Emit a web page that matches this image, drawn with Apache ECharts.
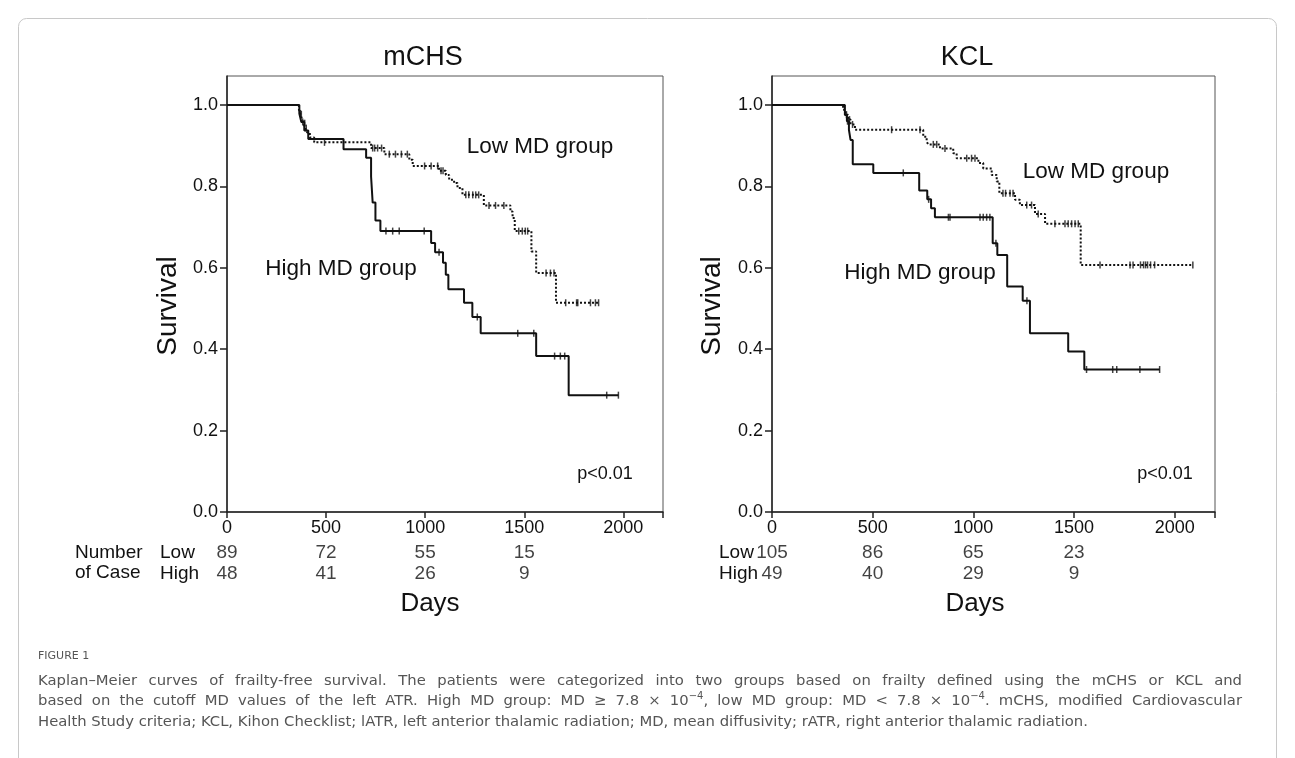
<!DOCTYPE html>
<html>
<head>
<meta charset="utf-8">
<script src="https://cdn.jsdelivr.net/npm/echarts@6/dist/echarts.min.js"></script>
<style>
html, body { margin: 0; padding: 0; background: #fff; }
#chart { width: 1295px; height: 758px; }
</style>
</head>
<body>
<div id="chart"></div>
<script>
// Kaplan-Meier steps: [day, survival after the drop]
const mchsLowSteps = [[0, 1], [363, 0.989], [370, 0.977], [378, 0.966], [386, 0.955], [395, 0.943], [405, 0.932],
    [418, 0.92], [440, 0.908], [727, 0.894], [794, 0.879], [920, 0.865], [937, 0.85], [1070, 0.838], [1104, 0.828],
    [1121, 0.816], [1146, 0.808], [1163, 0.796], [1188, 0.779], [1296, 0.753], [1430, 0.738], [1441, 0.722],
    [1452, 0.69], [1536, 0.64], [1560, 0.587], [1660, 0.514]];
const mchsLowEnd = 1880;
const mchsLowCensor = [375, 392, 400, 492, 735, 745, 760, 780, 819, 850, 880, 910, 997, 1030, 1063, 1080, 1090,
    1205, 1220, 1240, 1255, 1270, 1322, 1355, 1397, 1472, 1490, 1505, 1517, 1610, 1632, 1650, 1709, 1764, 1770,
    1834, 1859, 1875];

const mchsHighSteps = [[0, 1], [365, 0.979], [375, 0.958], [390, 0.937], [410, 0.916], [588, 0.891], [702, 0.87],
    [727, 0.824], [735, 0.76], [749, 0.716], [774, 0.69], [1030, 0.661], [1050, 0.638], [1090, 0.612],
    [1104, 0.583], [1117, 0.547], [1196, 0.514], [1238, 0.479], [1280, 0.439], [1560, 0.383], [1724, 0.287]];
const mchsHighEnd = 1975;
const mchsHighCensor = [370, 382, 802, 836, 869, 995, 1070, 1263, 1467, 1548, 1653, 1682, 1704, 1916, 1975];

const kclLowSteps = [[0, 1], [353, 0.988], [365, 0.976], [378, 0.964], [390, 0.952], [412, 0.939], [751, 0.922],
    [768, 0.91], [776, 0.903], [834, 0.893], [900, 0.881], [917, 0.869], [1025, 0.857], [1049, 0.844],
    [1091, 0.828], [1116, 0.812], [1129, 0.783], [1207, 0.767], [1231, 0.754], [1306, 0.732], [1356, 0.708],
    [1533, 0.607]];
const kclLowEnd = 2090;
const kclLowCensor = [370, 385, 400, 594, 735, 801, 818, 859, 967, 991, 1008, 1147, 1160, 1182, 1197, 1265, 1289,
    1322, 1405, 1455, 1471, 1488, 1505, 1521, 1629, 1778, 1793, 1830, 1845, 1855, 1865, 1880, 1900, 2090];

const kclHighSteps = [[0, 1], [362, 0.975], [372, 0.96], [382, 0.939], [390, 0.914], [401, 0.854], [503, 0.833],
    [731, 0.79], [771, 0.768], [790, 0.746], [809, 0.724], [1096, 0.66], [1119, 0.631], [1168, 0.554],
    [1245, 0.519], [1281, 0.439], [1471, 0.394], [1551, 0.35]];
const kclHighEnd = 1925;
const kclHighCensor = [375, 380, 652, 778, 876, 884, 1033, 1049, 1066, 1082, 1112, 1266, 1562, 1692, 1712, 1827, 1925];

// number of cases at risk
const riskDays = [0, 500, 1000, 1500];
const mchsRiskLow = [89, 72, 55, 15];
const mchsRiskHigh = [48, 41, 26, 9];
const kclRiskLow = [105, 86, 65, 23];
const kclRiskHigh = [49, 40, 29, 9];

const yTicks = [0, 0.2, 0.4, 0.6, 0.8, 1.0];

// caption, "^" marks a superscript run; first two lines are justified
const captionLines = [
    "Kaplan–Meier curves of frailty-free survival. The patients were categorized into two groups based on frailty defined using the mCHS or KCL and",
    "based on the cutoff MD values of the left ATR. High MD group: MD ≥ 7.8 × 10^−4, low MD group: MD < 7.8 × 10^−4. mCHS, modified Cardiovascular",
    "Health Study criteria; KCL, Kihon Checklist; lATR, left anterior thalamic radiation; MD, mean diffusivity; rATR, right anterior thalamic radiation."
];

const FONT = "Arial, 'Liberation Sans', sans-serif";
const NARROW = "'Liberation Sans Narrow', 'Arial Narrow', 'Liberation Sans', sans-serif";
const CAPTION_FONT = "'DejaVu Sans', 'Noto Sans', sans-serif";
const CAP_SIZE = 14.8;
const SUP_SIZE = 10;

const levelAt = (steps, d) => {
    let s = steps[0][1];
    steps.forEach(([t, v]) => { if (t <= d) s = v; });
    return s;
};
const curve = (steps, end) => steps.concat([[end, steps[steps.length - 1][1]]]);
const marks = (steps, days) => days.map(d => [d, levelAt(steps, d)]);

const chart = echarts.init(document.getElementById("chart"));

const plotX = (i) => ({
    gridIndex: i, type: "value", min: 0, max: 2200, interval: 500,
    axisLine: {onZero: false, lineStyle: {color: "#222", width: 1.5}},
    axisTick: {length: 6, lineStyle: {color: "#222", width: 1.5}},
    axisLabel: {
        color: "#111", fontSize: 18, fontFamily: FONT, margin: 7,
        formatter: v => (v % 500 === 0 ? String(v) : "")
    },
    splitLine: {show: false}
});
const plotY = (i) => ({
    gridIndex: i, type: "value", min: 0, max: 1.071,
    axisLine: {lineStyle: {color: "#222", width: 1.5}},
    axisTick: {length: 7, customValues: yTicks, lineStyle: {color: "#222", width: 1.5}},
    axisLabel: {
        customValues: yTicks, color: "#111", fontSize: 18, fontFamily: FONT, margin: 9,
        formatter: v => v.toFixed(1)
    },
    splitLine: {show: false}
});
const riskX = (i) => ({gridIndex: i, type: "value", min: 0, max: 2200, show: false});
const riskY = (i, margin) => ({
    gridIndex: i, type: "category", data: ["Low", "High"], inverse: true,
    axisLine: {show: false}, axisTick: {show: false},
    axisLabel: {interval: 0, color: "#111", fontSize: 19, fontFamily: NARROW, margin: margin, align: "left"}
});

const lineSeries = (idx, steps, end, dotted) => ({
    type: "line", xAxisIndex: idx, yAxisIndex: idx, step: "end", symbol: "none",
    data: curve(steps, end), silent: true, z: 3,
    lineStyle: {color: "#111", width: 2, type: dotted ? [2, 2] : "solid"}
});
const censorSeries = (idx, steps, days) => ({
    type: "scatter", xAxisIndex: idx, yAxisIndex: idx, symbol: "rect", symbolSize: [1.5, 7],
    data: marks(steps, days), silent: true, z: 4,
    itemStyle: {color: "#111"}
});
const riskSeries = (idx, low, high, dx) => ({
    type: "scatter", xAxisIndex: idx, yAxisIndex: idx, symbolSize: 1,
    itemStyle: {color: "rgba(0,0,0,0)"},
    labelLayout: {hideOverlap: false},
    data: riskDays.map((d, i) => [d, "Low", low[i]]).concat(riskDays.map((d, i) => [d, "High", high[i]])),
    label: {
        show: true, position: "inside", offset: [dx, 0], formatter: p => String(p.data[2]),
        color: "#111", fontSize: 19, fontFamily: NARROW
    }
});

const text = (x, y, t, font, fill) => ({
    type: "text", left: x, top: y,
    style: {text: t, font: font, fill: fill || "#111"}
});
const centered = (x, y, t, size, rotation) => ({
    type: "text", x: x, y: y, rotation: rotation || 0,
    style: {text: t, font: size + "px " + FONT, fill: "#111", align: "center", verticalAlign: "middle"}
});

// lay the caption words out, spreading justified lines to the right margin
const measure = document.createElement("canvas").getContext("2d");
const textWidth = (t, size) => {
    measure.font = size + "px " + CAPTION_FONT;
    return measure.measureText(t).width;
};
const captionGraphics = (lines, x0, x1, y0, lineGap) => {
    const out = [];
    lines.forEach((line, li) => {
        const words = line.split(" ").map(w => w.split("^").map((part, k) => {
            if (k === 0) return [{t: part, sup: false}];
            const m = part.match(/^(−?\d+)(.*)$/);
            return [{t: m[1], sup: true}, {t: m[2], sup: false}];
        }).flat().filter(s => s.t.length));
        const widths = words.map(w => w.reduce((a, s) => a + textWidth(s.t, s.sup ? SUP_SIZE : CAP_SIZE), 0));
        const space = textWidth(" ", CAP_SIZE);
        const natural = widths.reduce((a, b) => a + b, 0) + space * (words.length - 1);
        const justify = li < lines.length - 1;
        const gap = justify ? space + (x1 - x0 - natural) / (words.length - 1) : space;
        const y = y0 + li * lineGap;
        let x = x0;
        words.forEach((w) => {
            w.forEach(s => {
                const size = s.sup ? SUP_SIZE : CAP_SIZE;
                out.push({
                    type: "text", x: x, y: s.sup ? y - 5 : y, silent: true,
                    style: {text: s.t, font: size + "px " + CAPTION_FONT, fill: "#555", verticalAlign: "middle"}
                });
                x += textWidth(s.t, size);
            });
            x += gap;
        });
    });
    return out;
};

const option = {
    backgroundColor: "#fff",
    animation: false,
    grid: [
        {left: 227, top: 76, width: 436, height: 436, show: true, borderColor: "#555", borderWidth: 1},
        {left: 772, top: 76, width: 443, height: 436, show: true, borderColor: "#555", borderWidth: 1},
        {left: 227, top: 542, width: 436, height: 42},
        {left: 772, top: 542, width: 443, height: 42}
    ],
    xAxis: [plotX(0), plotX(1), riskX(2), riskX(3)],
    yAxis: [plotY(0), plotY(1), riskY(2, 67), riskY(3, 53)],
    series: [
        lineSeries(0, mchsLowSteps, mchsLowEnd, true),
        lineSeries(0, mchsHighSteps, mchsHighEnd, false),
        censorSeries(0, mchsLowSteps, mchsLowCensor),
        censorSeries(0, mchsHighSteps, mchsHighCensor),
        lineSeries(1, kclLowSteps, kclLowEnd, true),
        lineSeries(1, kclHighSteps, kclHighEnd, false),
        censorSeries(1, kclLowSteps, kclLowCensor),
        censorSeries(1, kclHighSteps, kclHighCensor),
        riskSeries(2, mchsRiskLow, mchsRiskHigh, 0),
        riskSeries(3, kclRiskLow, kclRiskHigh, 4)
    ],
    graphic: [
        {
            type: "rect", shape: {x: 18.5, y: 18.5, width: 1258, height: 800, r: 8},
            style: {fill: "none", stroke: "#c8c8c8", lineWidth: 1}, silent: true, z: -10
        },
        centered(423, 58, "mCHS", 27),
        centered(967, 58, "KCL", 27),
        centered(430, 604, "Days", 26),
        centered(975, 604, "Days", 26),
        centered(168, 306, "Survival", 28, Math.PI / 2),
        centered(712, 306, "Survival", 28, Math.PI / 2),
        centered(540, 147, "Low MD group", 22.5),
        centered(341, 269, "High MD group", 22.5),
        centered(1096, 172, "Low MD group", 22.5),
        centered(920, 273, "High MD group", 22.5),
        centered(605, 474, "p<0.01", 18),
        centered(1165, 474, "p<0.01", 18),
        text(75, 543, "Number", "19px " + NARROW),
        text(75, 563, "of Case", "19px " + NARROW),
        text(38, 651, "FIGURE 1", "11px " + CAPTION_FONT, "#555")
    ].concat(captionGraphics(captionLines, 38, 1242, 681, 20.5))
};

chart.setOption(option);
window.addEventListener("resize", () => chart.resize());
</script>
</body>
</html>
